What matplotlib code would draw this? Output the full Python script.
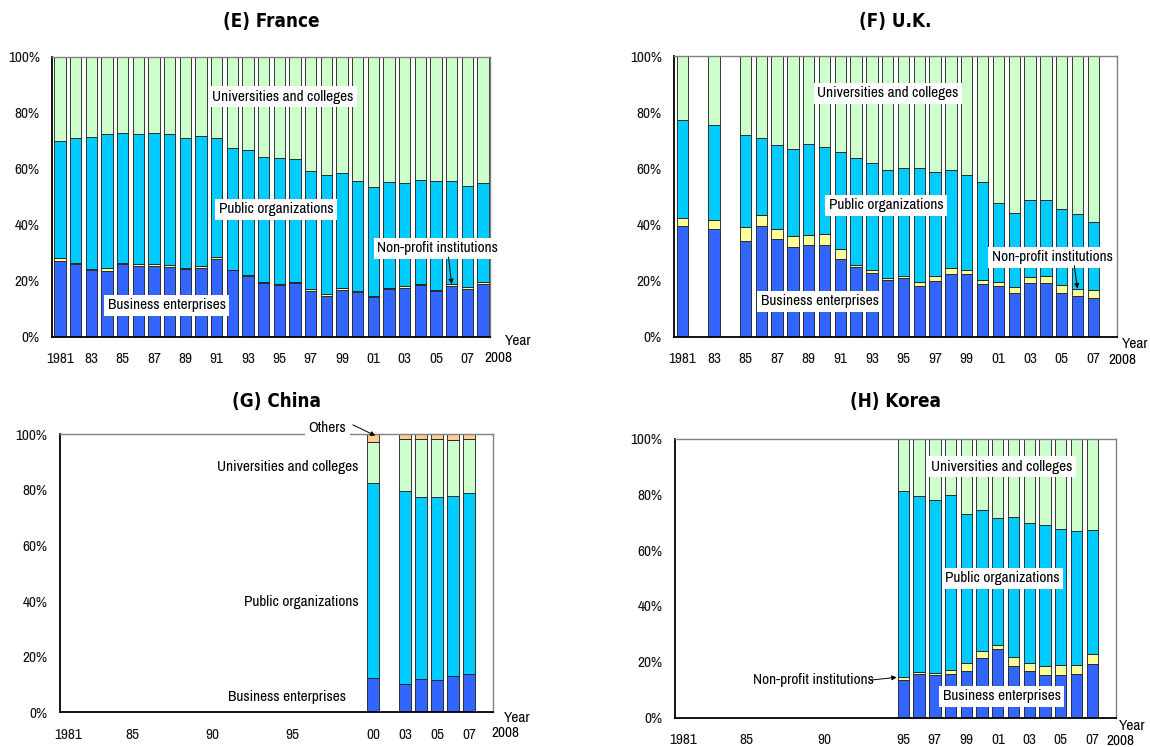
import matplotlib
matplotlib.use("Agg")
import matplotlib.pyplot as plt
from matplotlib import font_manager

# ---- fonts ---------------------------------------------------------------
available = {f.name for f in font_manager.fontManager.ttflist}
BODY_FONT = "Archivo Narrow" if "Archivo Narrow" in available else "DejaVu Sans"
plt.rcParams["font.family"] = [BODY_FONT, "DejaVu Sans"]
BODY_SIZE = 11

# ---- colours -------------------------------------------------------------
C_BUS = "#3366FF"
C_NPO = "#FFFF99"
C_PUB = "#00CCFF"
C_UNI = "#CCFFCC"
C_OTH = "#FFCC99"
EDGE = "#1a1a1a"

# ---- (E) France ----------------------------------------------------------
fr_years = list(range(1981, 2009))
fr_business = [27.2, 25.8, 23.7, 23.6, 25.8, 25.4, 25.1, 24.8, 24.1, 24.6,
               27.9, 23.7, 21.7, 19.1, 18.4, 19.2, 16.5, 14.7, 16.7, 16.1,
               14.2, 16.9, 17.5, 18.5, 16.2, 18.3, 17.1, 18.9]
fr_npo = [1.0, 0.6, 0.5, 1.0, 0.7, 0.6, 0.9, 0.7, 0.5, 0.5,
          0.7, 0.3, 0.3, 0.6, 0.5, 0.4, 0.6, 0.7, 0.6, 0.4,
          0.4, 0.5, 0.5, 0.5, 0.5, 0.4, 0.6, 0.6]
fr_public = [41.7, 44.7, 47.2, 47.6, 46.1, 46.3, 46.6, 46.7, 46.5, 46.7,
             42.5, 43.5, 44.6, 44.5, 44.9, 43.8, 42.0, 42.5, 41.3, 39.0,
             38.9, 37.9, 37.0, 37.1, 39.0, 37.0, 36.0, 35.2]
fr_univ = [30.1, 28.9, 28.6, 27.8, 27.4, 27.7, 27.4, 27.8, 28.9, 28.2,
           28.9, 32.5, 33.4, 35.8, 36.2, 36.6, 40.9, 42.1, 41.4, 44.5,
           46.5, 44.7, 45.0, 43.9, 44.3, 44.3, 46.3, 45.3]

# ---- (F) U.K. ------------------------------------------------------------
uk_years = [1981, 1983] + list(range(1985, 2008))
uk_business = [39.3, 38.5, 33.9, 39.3, 34.6, 31.9, 32.5, 32.5, 27.7, 24.8,
               22.6, 20.2, 20.7, 17.9, 19.8, 22.4, 22.4, 18.8, 17.9, 15.6,
               19.2, 19.2, 15.4, 14.6, 13.7]
uk_npo = [3.1, 2.9, 5.1, 3.9, 3.9, 3.8, 3.6, 4.2, 3.6, 0.8,
          1.0, 0.6, 0.7, 1.6, 1.9, 2.0, 1.4, 1.4, 1.6, 2.1,
          2.0, 2.5, 3.1, 2.4, 3.0]
uk_public = [34.7, 34.0, 33.0, 27.4, 29.6, 31.1, 32.4, 30.9, 34.3, 38.1,
             38.4, 38.7, 38.8, 40.7, 37.1, 34.9, 33.7, 34.8, 28.1, 26.3,
             27.6, 27.1, 26.9, 26.5, 24.1]
uk_univ = [22.9, 24.6, 28.0, 29.4, 31.9, 33.2, 31.5, 32.4, 34.4, 36.3,
           38.0, 40.5, 39.8, 39.8, 41.2, 40.7, 42.5, 45.0, 52.4, 56.0,
           51.2, 51.2, 54.6, 56.5, 59.2]

# ---- (G) China -----------------------------------------------------------
# category axis: 1981-2000, one empty slot, then 2003-2008
cn_categories = list(range(1981, 2001)) + [None] + list(range(2003, 2009))
cn_years = [2000, 2003, 2004, 2005, 2006, 2007]
cn_business = [12.3, 10.2, 12.0, 11.7, 12.9, 13.8]
cn_public = [70.1, 69.4, 65.4, 65.7, 64.8, 65.0]
cn_univ = [15.0, 18.8, 20.8, 20.8, 20.3, 19.4]
cn_others = [2.6, 1.6, 1.8, 1.8, 2.0, 1.8]

# ---- (H) Korea -----------------------------------------------------------
kr_years = list(range(1995, 2008))
kr_business = [13.6, 15.6, 15.1, 15.7, 16.6, 21.4, 24.4, 18.6, 16.8, 15.4, 15.4, 15.7, 19.0]
kr_npo = [0.8, 0.7, 0.9, 1.5, 3.0, 2.6, 1.7, 3.1, 2.9, 3.1, 3.4, 3.1, 3.6]
kr_public = [66.8, 63.2, 62.0, 62.6, 53.3, 50.3, 45.3, 50.1, 49.9, 50.5, 48.9, 48.1, 44.7]
kr_univ = [18.8, 20.5, 22.0, 20.2, 27.1, 25.7, 28.6, 28.2, 30.4, 31.0, 32.3, 33.1, 32.7]

yticks = [0, 20, 40, 60, 80, 100]
yticklabels = ["0%", "20%", "40%", "60%", "80%", "100%"]

W, H = 1150, 747
fig = plt.figure(figsize=(W / 100, H / 100), dpi=100)


def make_axes(left, right, top, bottom):
    return fig.add_axes([left / W, 1 - bottom / H, (right - left) / W, (bottom - top) / H])


def stacked(ax, x, segments, colors, width=0.72):
    base = [0.0] * len(x)
    for vals, col in zip(segments, colors):
        ax.bar(x, vals, width=width, bottom=base, color=col,
               edgecolor=EDGE, linewidth=0.6, zorder=2)
        base = [b + v for b, v in zip(base, vals)]


def style(ax, xlim, ticks, labels, title, title_pad, end_label_pos, year_pos):
    ax.set_xlim(*xlim)
    ax.set_ylim(0, 100)
    ax.set_yticks(yticks)
    ax.set_yticklabels(yticklabels)
    ax.set_xticks(ticks)
    ax.set_xticklabels(labels)
    ax.tick_params(axis="both", length=0, labelsize=BODY_SIZE, colors="#111111")
    ax.tick_params(axis="x", pad=11)
    ax.tick_params(axis="y", pad=9)
    for s in ("left", "bottom"):
        ax.spines[s].set_color("black")
        ax.spines[s].set_linewidth(1.3)
    for s in ("top", "right"):
        ax.spines[s].set_color("#808080")
        ax.spines[s].set_linewidth(1.0)
    ax.set_title(title, fontsize=13.5, fontweight="bold", pad=title_pad,
                 family=["DejaVu Sans"], fontstretch="condensed")
    ax.text(end_label_pos[0], end_label_pos[1], "2008", transform=ax.transAxes,
            ha="center", va="center", fontsize=BODY_SIZE)
    ax.text(year_pos[0], year_pos[1], "Year", transform=ax.transAxes,
            ha="center", va="center", fontsize=BODY_SIZE)


def label(ax, x, y, text, ha="center"):
    ax.text(x, y, text, ha=ha, va="center", fontsize=BODY_SIZE, zorder=5,
            bbox=dict(facecolor="white", edgecolor="none", pad=2.5))


def arrow(ax, xy_from, xy_to):
    ax.annotate("", xy=xy_to, xytext=xy_from, zorder=6, annotation_clip=False,
                arrowprops=dict(arrowstyle="-|>", color="black", lw=0.7,
                                mutation_scale=7, shrinkA=0, shrinkB=0))


odd_years = list(range(1981, 2008, 2))
odd_labels = ["1981"] + ["%02d" % (y % 100) for y in odd_years[1:]]

# France
ax = make_axes(52.3, 490, 56.5, 336.8)
stacked(ax, fr_years, [fr_business, fr_npo, fr_public, fr_univ], [C_BUS, C_NPO, C_PUB, C_UNI])
style(ax, (1980.5, 2008.45), odd_years, odd_labels, "(E) France", 21,
      (1.02, -0.075), (1.065, -0.015))
label(ax, 1995.2, 85.6, "Universities and colleges")
label(ax, 1994.8, 45.5, "Public organizations")
label(ax, 2005.1, 31.6, "Non-profit institutions")
arrow(ax, (2005.8, 28.4), (2006.0, 18.8))
label(ax, 1987.8, 11.3, "Business enterprises")

# U.K.
ax = make_axes(674.3, 1117, 56, 336.5)
stacked(ax, uk_years, [uk_business, uk_npo, uk_public, uk_univ], [C_BUS, C_NPO, C_PUB, C_UNI])
style(ax, (1980.5, 2008.5), odd_years, odd_labels, "(F) U.K.", 21,
      (1.012, -0.085), (1.042, -0.025))
label(ax, 1994.0, 86.8, "Universities and colleges")
label(ax, 1993.9, 46.8, "Public organizations")
label(ax, 2004.4, 28.2, "Non-profit institutions")
arrow(ax, (2005.8, 25.3), (2006.0, 17.1))
label(ax, 1989.7, 12.5, "Business enterprises")

# China
ax = make_axes(60, 493.3, 434.3, 712.3)
cn_x = [cn_categories.index(y) for y in cn_years]
stacked(ax, cn_x, [cn_business, cn_public, cn_univ, cn_others], [C_BUS, C_PUB, C_UNI, C_OTH], width=0.72)
cn_ticks = [1981, 1985, 1990, 1995, 2000, 2003, 2005, 2007]
cn_labels = ["1981", "85", "90", "95", "00", "03", "05", "07"]
style(ax, (-0.5, len(cn_categories) - 0.5), [cn_categories.index(y) for y in cn_ticks],
      cn_labels, "(G) China", 19.5, (1.029, -0.0755), (1.055, -0.022))
label(ax, 16.16, 102.4, "Others")
arrow(ax, (17.75, 103.4), (19.15, 99.5))
label(ax, 13.69, 88.3, "Universities and colleges")
label(ax, 14.52, 39.8, "Public organizations")
label(ax, 13.63, 5.6, "Business enterprises")

# Korea
ax = make_axes(675.1, 1115.9, 438.5, 717.5)
stacked(ax, kr_years, [kr_business, kr_npo, kr_public, kr_univ], [C_BUS, C_NPO, C_PUB, C_UNI])
kr_ticks = [1981, 1985, 1990, 1995, 1997, 1999, 2001, 2003, 2005, 2007]
kr_labels = ["1981", "85", "90", "95", "97", "99", "01", "03", "05", "07"]
style(ax, (1980.5, 2008.5), kr_ticks, kr_labels, "(H) Korea", 22.5,
      (1.01, -0.085), (1.037, -0.031))
label(ax, 2001.24, 89.9, "Universities and colleges")
label(ax, 2001.3, 49.9, "Public organizations")
label(ax, 2001.24, 7.7, "Business enterprises")
label(ax, 1989.26, 13.4, "Non-profit institutions")
arrow(ax, (1992.9, 13.4), (1994.58, 14.4))

fig.savefig("out.png", dpi=100)
